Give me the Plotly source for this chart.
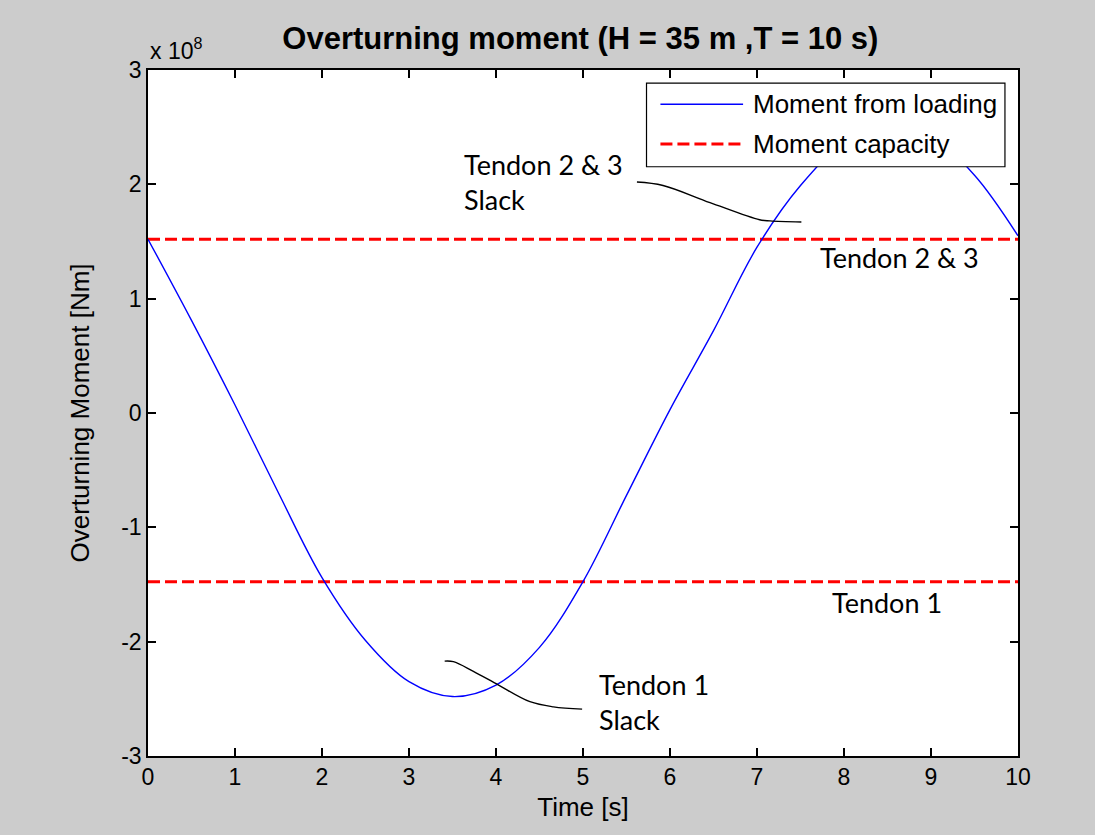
import plotly.graph_objects as go

# Overturning moment time history (Nm)
time_s = [0.0, 0.5, 1.0, 1.5, 2.0, 2.5, 3.0, 3.5, 4.0, 4.5, 5.0, 5.5, 6.0, 6.5, 7.0,
          7.5, 8.0, 8.5, 9.0, 9.5, 10.0]
moment_nm = [1.52e8, 0.81e8, 0.07e8, -0.70e8, -1.44e8, -1.99e8, -2.35e8, -2.48e8, -2.38e8,
             -2.05e8, -1.475e8, -0.72e8, 0.03e8, 0.72e8, 1.45e8, 1.99e8, 2.36e8, 2.50e8,
             2.42e8, 2.08e8, 1.55e8]

# Moment capacities (Nm)
capacity_tendon23 = 1.52e8
capacity_tendon1 = -1.476e8

# Axis ticks
x_ticks = list(range(0, 11))
y_tick_vals = [-3e8, -2e8, -1e8, 0, 1e8, 2e8, 3e8]
y_tick_text = ["-3", "-2", "-1", "0", "1", "2", "3"]

# Hand-drawn pointer curves (time, moment)
pointer23_t = [5.62, 5.92, 6.46, 7.03, 7.15, 7.51]
pointer23_m = [2.02e8, 1.99e8, 1.84e8, 1.69e8, 1.68e8, 1.67e8]
pointer1_t = [3.41, 3.51, 3.74, 4.03, 4.39, 4.66, 4.99]
pointer1_m = [-2.17e8, -2.175e8, -2.26e8, -2.38e8, -2.525e8, -2.57e8, -2.59e8]

AX_FONT = "Liberation Sans, Arial, sans-serif"
NOTE_FONT = "Lato, Open Sans, sans-serif"
RED_DASH = "12px,5px"

fig = go.Figure()

fig.add_trace(go.Scatter(x=[0, 10], y=[capacity_tendon23] * 2, mode="lines",
                         line=dict(color="#ff0000", width=3, dash=RED_DASH),
                         name="Moment capacity", showlegend=False))
fig.add_trace(go.Scatter(x=[0, 10], y=[capacity_tendon1] * 2, mode="lines",
                         line=dict(color="#ff0000", width=3, dash=RED_DASH),
                         showlegend=False))
fig.add_trace(go.Scatter(x=time_s, y=moment_nm, mode="lines",
                         line=dict(color="#0000ff", width=1.4, shape="spline", smoothing=1),
                         name="Moment from loading", showlegend=False))
fig.add_trace(go.Scatter(x=pointer23_t, y=pointer23_m, mode="lines",
                         line=dict(color="#000000", width=1.4, shape="spline"),
                         showlegend=False))
fig.add_trace(go.Scatter(x=pointer1_t, y=pointer1_m, mode="lines",
                         line=dict(color="#000000", width=1.4, shape="spline"),
                         showlegend=False))

axis_common = dict(showgrid=False, zeroline=False, showline=True, linecolor="#000000",
                   linewidth=1.5, mirror="ticks", ticks="inside", ticklen=8,
                   tickwidth=1.5, tickcolor="#000000",
                   tickfont=dict(family=AX_FONT, size=23, color="#000000"))

fig.update_xaxes(range=[0, 10], tickvals=x_ticks, **axis_common,
                 title=dict(text="Time [s]", font=dict(family=AX_FONT, size=26, color="#000000"),
                            standoff=8))
fig.update_yaxes(range=[-3e8, 3e8], tickvals=y_tick_vals, ticktext=y_tick_text, **axis_common,
                 title=dict(text="Overturning Moment [Nm]",
                            font=dict(family=AX_FONT, size=26, color="#000000"), standoff=24))

# Legend box
fig.add_shape(type="rect", xref="paper", yref="paper", x0=0.573, x1=0.985, y0=0.859, y1=0.981,
              fillcolor="#ffffff", line=dict(color="#000000", width=1.2), layer="above")
fig.add_shape(type="line", xref="paper", yref="paper", x0=0.589, x1=0.684, y0=0.950, y1=0.950,
              line=dict(color="#0000ff", width=1.4), layer="above")
fig.add_shape(type="line", xref="paper", yref="paper", x0=0.589, x1=0.684, y0=0.892, y1=0.892,
              line=dict(color="#ff0000", width=3, dash=RED_DASH), layer="above")
fig.add_annotation(xref="paper", yref="paper", x=0.693, y=0.950, text="Moment from loading",
                   showarrow=False, xanchor="left", yanchor="middle",
                   font=dict(family=AX_FONT, size=26, color="#000000"))
fig.add_annotation(xref="paper", yref="paper", x=0.693, y=0.892, text="Moment capacity",
                   showarrow=False, xanchor="left", yanchor="middle",
                   font=dict(family=AX_FONT, size=26, color="#000000"))

# Text notes
notes = [
    (3.606, 2.02e8, "Tendon 2 &amp; 3<br>Slack", "left"),
    (8.64, 1.364e8, "Tendon 2 &amp; 3", "center"),
    (8.49, -1.654e8, "Tendon 1", "center"),
    (5.16, -2.529e8, "Tendon 1<br>Slack", "left"),
]
for nx, ny, txt, anchor in notes:
    fig.add_annotation(x=nx, y=ny, text=txt, showarrow=False, xanchor=anchor, yanchor="middle",
                       align="left", font=dict(family=NOTE_FONT, size=27, color="#000000"))

# Axis exponent label
fig.add_annotation(xref="paper", yref="paper", x=0.0, y=1.0, yshift=4, text="x 10<sup>8</sup>",
                   showarrow=False, xanchor="left", yanchor="bottom",
                   font=dict(family=AX_FONT, size=23, color="#000000"))

fig.update_layout(
    width=1095, height=835,
    margin=dict(l=148, r=77, t=70, b=79),
    paper_bgcolor="#cccccc", plot_bgcolor="#ffffff",
    title=dict(text="<b>Overturning moment (H = 35 m ,T = 10 s)</b>", x=0.53, xanchor="center",
               y=0.9545, yanchor="middle",
               font=dict(family=AX_FONT, size=31, color="#000000")),
    showlegend=False,
)

fig.write_html("out.html")
